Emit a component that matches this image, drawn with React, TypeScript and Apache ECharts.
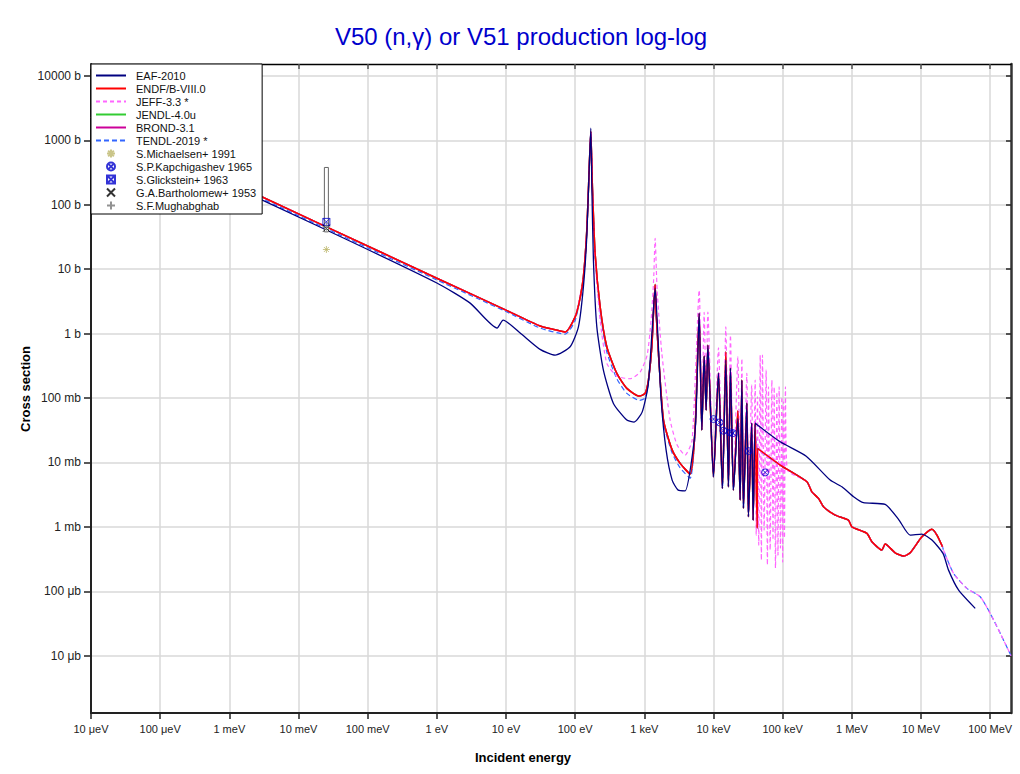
import React, { useEffect, useRef } from "react";
import * as echarts from "echarts";

type Pt = [number, number];

// ---------- axes ----------
const xTickExponents = [-5, -4, -3, -2, -1, 0, 1, 2, 3, 4, 5, 6, 7, 8];
const xTickLabels = ["10 μeV", "100 μeV", "1 meV", "10 meV", "100 meV", "1 eV", "10 eV", "100 eV", "1 keV", "10 keV", "100 keV", "1 MeV", "10 MeV", "100 MeV"];
const yTickExponents = [-5, -4, -3, -2, -1, 0, 1, 2, 3, 4];
const yTickLabels = ["10 μb", "100 μb", "1 mb", "10 mb", "100 mb", "1 b", "10 b", "100 b", "1000 b", "10000 b"];
const energyRange: Pt = [1e-5, 2e8]; // eV
const xsRange: Pt = [1.29e-6, 1.53e4]; // b

// ---------- evaluated data  [energy eV, cross section b] ----------
const eafLow: Pt[] = [
  [1e-5, 2030], [0.0253, 40.5], [1, 6.1], [3.03, 2.97], [7.43, 1.22], [9.08, 1.62], [16.0, 1.02],
  [31.1, 0.568], [51.3, 0.463], [84.5, 0.624], [111.4, 1.27], [131.5, 5.32], [147.2, 31.8],
  [159.2, 344], [168.3, 1540], [174.2, 189], [183.6, 13.8], [205.6, 1.27], [255.9, 0.271],
  [357.3, 0.0824], [558.5, 0.0454], [711.6, 0.0423], [929, 0.0604], [1135, 0.158], [1297, 1.13],
  [1432, 5.07], [1556, 1.13], [1750, 0.0927], [2065, 0.0155], [2523, 5.32e-3], [3083, 3.72e-3],
  [3890, 3.63e-3], [5433, 0.0318],
];
const eafForest: Pt[] = [
  [6209, 2.06], [6776, 0.0318], [7328, 0.447], [7834, 0.0649], [8279, 0.662], [9977, 5.98e-3],
  [11800, 0.243], [13460, 3.95e-3], [15070, 0.387], [16440, 4.19e-3], [17580, 0.291], [19410, 3.72e-3],
  [22490, 0.0482], [24270, 2.61e-3], [25700, 0.19], [27100, 1.94e-3], [30340, 0.0834], [31990, 1.44e-3],
  [35650, 0.0407], [37410, 1.27e-3], [40000, 0.0407],
];
const eafFast: Pt[] = [
  [41400, 0.0394], [92040, 0.0209], [2.19e5, 0.0125], [4.86e5, 5.32e-3], [7.18e5, 4.19e-3],
  [1.06e6, 2.93e-3], [1.47e6, 2.37e-3], [3.03e6, 2.23e-3], [4.73e6, 1.31e-3], [6.98e6, 7.45e-4],
  [1.03e7, 7.73e-4], [1.44e7, 6.24e-4], [2.08e7, 3.87e-4], [2.5e7, 2.13e-4], [3.48e7, 1.05e-4],
  [6.08e7, 5.43e-5],
];

const endfLow: Pt[] = [
  [1e-5, 2290], [0.0253, 45.4], [1, 7.24], [10, 2.31], [31.1, 1.31], [51.3, 1.15], [71.6, 1.06],
  [100, 1.82], [115, 3.16], [131.5, 7.6], [147.2, 40.3], [159.2, 344], [168.3, 1380], [177.5, 189],
  [194.1, 17.7], [229.6, 2.6], [286.4, 0.624], [400, 0.241], [558.5, 0.141], [849, 0.107],
  [1026, 0.118], [1146, 0.19], [1282, 0.622], [1355, 2.06], [1432, 5.79], [1486, 2.0], [1600, 0.492],
  [1892, 0.0454], [2512, 0.0158], [3296, 9.66e-3], [4592, 6.59e-3], [5433, 0.035],
];
const endfForest: Pt[] = [
  [6209, 2.06], [6776, 0.0318], [7328, 0.447], [7834, 0.0649], [8279, 0.662], [9977, 5.98e-3],
  [11800, 0.243], [13460, 3.95e-3], [15070, 0.521], [16440, 4.19e-3], [17580, 0.291], [19410, 3.72e-3],
  [22490, 0.0632], [24270, 2.61e-3], [25700, 0.19], [27100, 1.94e-3], [30340, 0.0834], [31990, 1.44e-3],
  [35650, 0.0407], [37410, 1.27e-3], [40000, 0.0407], [42760, 9.57e-4], [43250, 0.0165],
];
const endfFast: Pt[] = [
  [92040, 9.1e-3], [2.239e5, 5.01e-3], [2.642e5, 3.5e-3], [3.296e5, 2.77e-3], [3.89e5, 2.05e-3],
  [5.741e5, 1.52e-3], [8.93e5, 1.27e-3], [1.002e6, 1.0e-3], [1.652e6, 7.92e-4], [1.95e6, 5.86e-4],
  [2.716e6, 4.36e-4], [3.034e6, 5.41e-4], [4.236e6, 3.96e-4], [5.585e6, 3.52e-4], [6.982e6, 3.96e-4],
  [1.03e7, 7.02e-4], [1.435e7, 9.14e-4], [1.698e7, 7.45e-4], [2.046e7, 4.91e-4],
];

const jeffLow: Pt[] = [
  [1e-5, 2290], [0.0253, 45.4], [1, 7.24], [10, 2.31], [31.1, 1.31], [71.6, 1.06], [100, 1.82],
  [131.5, 7.6], [147.2, 40.3], [159.2, 344], [168.3, 1380], [177.5, 180], [194.1, 15], [229.6, 1.6],
  [287, 0.344], [400, 0.219], [624, 0.199], [869, 0.252], [1097, 0.463], [1253, 1.62], [1362, 6.76],
  [1432, 30.0], [1531, 4.72], [1791, 0.492], [2360, 0.0454], [2979, 0.0186], [3890, 0.013], [4910, 0.0222],
];
const jeffForest: Pt[] = [
  [6209, 4.72], [6776, 0.038], [7328, 2.13], [7834, 0.0927], [8279, 2.15], [9977, 7.6e-3],
  [11800, 0.601], [13460, 5.32e-3], [15070, 1.27], [16440, 5.32e-3], [17580, 0.946], [19410, 4.45e-3],
  [22490, 0.436], [24270, 3.11e-3], [25700, 0.411], [27100, 2.61e-3], [30340, 0.241], [31990, 1.82e-3],
  [35650, 0.158], [37410, 1.52e-3], [40000, 0.19], [41400, 7.45e-4], [43250, 0.1045], [45080, 5.21e-4],
  [47320, 0.463], [49200, 3.05e-4], [51050, 0.463], [53950, 8.91e-4], [57680, 0.271], [60120, 2.55e-4],
  [62370, 0.149], [65920, 4.36e-4], [69820, 0.19], [72440, 6.24e-4], [75340, 0.149], [78700, 2.29e-4],
  [82410, 0.125], [85510, 3.65e-4], [88920, 0.149], [92900, 4.69e-4], [97280, 0.1045], [100000, 2.84e-4],
  [102800, 0.0873], [106200, 6.7e-4], [109700, 0.149], [116100, 7.8e-3],
];
const jeffTail: Pt[] = [
  [2.11e7, 4.36e-4], [2.95e7, 1.9e-4], [4.61e7, 1.11e-4], [7.18e7, 8.22e-5], [1.0e8, 4.54e-5],
  [1.4e8, 2.22e-5], [2.0e8, 1.0e-5],
];

const tendlLow: Pt[] = [
  [1e-5, 2100], [0.0253, 42.5], [1, 6.8], [10, 2.2], [31.1, 1.22], [71.6, 0.98], [100, 1.6],
  [131.5, 7.0], [147.2, 38], [159.2, 330], [168.3, 1300], [177.5, 180], [194.1, 16], [229.6, 2.2],
  [286.4, 0.52], [400, 0.2], [558.5, 0.118], [849, 0.092], [1026, 0.1], [1146, 0.17], [1282, 0.6],
  [1355, 2.0], [1432, 5.2], [1486, 1.9], [1600, 0.45], [1892, 0.042], [2512, 0.0142], [3296, 8.2e-3],
  [4592, 5.7e-3], [5433, 0.03],
];
const tendlJoin: Pt[] = [[43250, 0.0165]];

// ---------- experimental data ----------
const michaelsen1991: Pt[] = [[0.0253, 20.2]];
const kapchigashev1965: Pt[] = [
  [10000, 0.0471], [12200, 0.0418], [13900, 0.031], [17400, 0.0292], [19100, 0.0285], [32000, 0.015], [55800, 0.007],
];
const glickstein1963: Pt[] = [[0.0253, 54.2]];
const glicksteinError: [number, number, number][] = [[0.0253, 37.9, 379]];
const bartholomew1953: Pt[] = [[0.0253, 43]];
const mughabghab: Pt[] = [[0.0253, 45.5]];

// ---------- curves ----------
const eafCurve = [...eafLow, ...eafForest, ...eafFast];
const endfCurve = [...endfLow, ...endfForest, ...endfFast];
const jeffCurve = [...jeffLow, ...jeffForest, ...endfFast.slice(1), ...jeffTail];
const tendlCurve = [...tendlLow, ...eafForest, ...tendlJoin, ...endfFast, ...jeffTail];
const jendlCurve = endfCurve;
const brondCurve = endfCurve;

const lg = (pts: Pt[]) => pts.map(([e, s]) => [Math.log10(e), Math.log10(s)]);

const SYM_STAR = "path://M0,-1L0,1M-1,0L1,0M-0.71,-0.71L0.71,0.71M-0.71,0.71L0.71,-0.71";
const SYM_CIRCX = "path://M1,0A1,1,0,1,1,-1,0A1,1,0,1,1,1,0ZM-0.71,-0.71L0.71,0.71M-0.71,0.71L0.71,-0.71";
const SYM_SQX = "path://M-1,-1L1,-1L1,1L-1,1ZM-1,-1L1,1M-1,1L1,-1";
const SYM_X = "path://M-1,-1L1,1M-1,1L1,-1";
const SYM_PLUS = "path://M0,-1L0,1M-1,0L1,0";

const FONT = "'Liberation Sans', Arial, sans-serif";

function lineSeries(name: string, data: Pt[], color: string, width: number, dash: number[] | null, smooth: number) {
  return {
    name,
    type: "line",
    data: lg(data),
    symbol: "none",
    showSymbol: false,
    silent: true,
    smooth,
    lineStyle: { color, width, type: dash ? dash : "solid" },
    itemStyle: { color },
  };
}

function pointSeries(name: string, data: Pt[], symbol: string, color: string, size: number) {
  return {
    name,
    type: "scatter",
    data: lg(data),
    symbol,
    symbolSize: size,
    silent: true,
    itemStyle: { color: "rgba(255,255,255,0)", borderColor: color, borderWidth: 1 },
    z: 5,
  };
}

export default function App() {
  const ref = useRef<HTMLDivElement>(null);
  useEffect(() => {
    if (!ref.current) return;
    const chart = echarts.init(ref.current, null, { renderer: "svg" });
    const xMin = Math.log10(energyRange[0]);
    const xMax = Math.log10(energyRange[1]);
    const yMin = Math.log10(xsRange[0]);
    const yMax = Math.log10(xsRange[1]);
    const lineNames = ["EAF-2010", "ENDF/B-VIII.0", "JEFF-3.3 *", "JENDL-4.0u", "BROND-3.1", "TENDL-2019 *"];
    const pointNames = ["S.Michaelsen+ 1991", "S.P.Kapchigashev 1965", "S.Glickstein+ 1963", "G.A.Bartholomew+ 1953", "S.F.Mughabghab"];
    const option: any = {
      animation: false,
      backgroundColor: "#fff",
      grid: { left: 91, top: 64, width: 920, height: 649, containLabel: false, outerBoundsMode: "none" },
      graphic: [
        { type: "text", x: 521, y: 36, style: { text: "V50 (n,γ) or V51 production log-log", fill: "#0000cc", font: `24px ${FONT}`, align: "center", verticalAlign: "middle" } },
        { type: "text", x: 523, y: 757, style: { text: "Incident energy", fill: "#000", font: `bold 13px ${FONT}`, align: "center", verticalAlign: "middle" } },
        { type: "text", x: 25, y: 389, rotation: Math.PI / 2, style: { text: "Cross section", fill: "#000", font: `bold 13px ${FONT}`, align: "center", verticalAlign: "middle" } },
      ],
      legend: {
        data: [
          ...lineNames.map((n) => ({ name: n, itemStyle: { opacity: 0 } })),
          ...pointNames.map((n) => ({ name: n })),
        ],
        orient: "vertical",
        left: 91,
        top: 64,
        itemWidth: 30,
        itemHeight: 8,
        itemGap: 2,
        padding: [6, 6, 3, 4],
        backgroundColor: "#fff",
        borderColor: "#000",
        borderWidth: 1,
        selectedMode: false,
        textStyle: { fontSize: 11, color: "#111", fontFamily: FONT, padding: [0, 0, 0, 5] },
        z: 10,
      },
      xAxis: [
        {
          type: "value", min: xMin, max: xMax, position: "bottom",
          axisLine: { show: true, onZero: false, lineStyle: { color: "#222", width: 2 } },
          axisTick: { show: true, customValues: xTickExponents, length: 6, lineStyle: { color: "#222", width: 1.5 } },
          axisLabel: { customValues: xTickExponents, formatter: (v: number) => xTickLabels[Math.round(v) + 5] ?? "", color: "#222", fontSize: 11, fontFamily: FONT, margin: 10 },
          splitLine: { show: true, lineStyle: { color: "#d9d9d9", width: 1.5 } },
        },
        {
          type: "value", min: xMin, max: xMax, position: "top",
          axisLine: { show: true, onZero: false, lineStyle: { color: "#000", width: 1.3 } },
          axisTick: { show: true, inside: true, customValues: xTickExponents, length: 5, lineStyle: { color: "#555", width: 1.5 } },
          axisLabel: { show: false },
          splitLine: { show: false },
        },
      ],
      yAxis: [
        {
          type: "value", min: yMin, max: yMax, position: "left",
          axisLine: { show: true, onZero: false, lineStyle: { color: "#222", width: 2 } },
          axisTick: { show: true, customValues: yTickExponents, length: 7, lineStyle: { color: "#222", width: 1.5 } },
          axisLabel: { customValues: yTickExponents, formatter: (v: number) => yTickLabels[Math.round(v) + 5] ?? "", color: "#222", fontSize: 12, fontFamily: FONT, margin: 10 },
          splitLine: { show: true, lineStyle: { color: "#d9d9d9", width: 1.5 } },
        },
        {
          type: "value", min: yMin, max: yMax, position: "right",
          axisLine: { show: true, onZero: false, lineStyle: { color: "#333", width: 2.5 } },
          axisTick: { show: true, inside: true, customValues: yTickExponents, length: 5, lineStyle: { color: "#222", width: 1.5 } },
          axisLabel: { show: false },
          splitLine: { show: false },
        },
      ],
      series: [
        lineSeries("JENDL-4.0u", jendlCurve, "#33cc33", 1.5, null, 0.2),
        lineSeries("BROND-3.1", brondCurve, "#cc0099", 1.5, null, 0.2),
        lineSeries("TENDL-2019 *", tendlCurve, "#3366ff", 1.2, [5, 3], 0.2),
        lineSeries("JEFF-3.3 *", jeffCurve, "#ff66ff", 1.2, [4, 3], 0.2),
        lineSeries("ENDF/B-VIII.0", endfCurve, "#ff0000", 1.5, null, 0.2),
        lineSeries("EAF-2010", eafCurve, "#000080", 1.3, null, 0.2),
        {
          name: "Glickstein error",
          type: "custom",
          data: glicksteinError.map(([e, lo, hi]) => [Math.log10(e), Math.log10(lo), Math.log10(hi)]),
          encode: { x: 0, y: [1, 2] },
          silent: true,
          z: 4,
          renderItem: (_p: any, api: any) => {
            const x = api.value(0);
            const top = api.coord([x, api.value(2)]);
            const bot = api.coord([x, api.value(1)]);
            return {
              type: "rect",
              shape: { x: top[0] - 2, y: top[1], width: 4, height: bot[1] - top[1] },
              style: { fill: "#fff", stroke: "#666", lineWidth: 1 },
            };
          },
        },
        pointSeries("S.Michaelsen+ 1991", michaelsen1991, SYM_STAR, "#bdb76b", 7),
        pointSeries("S.P.Kapchigashev 1965", kapchigashev1965, SYM_CIRCX, "#0000cc", 7),
        pointSeries("S.Glickstein+ 1963", glickstein1963, SYM_SQX, "#0000cc", 7),
        pointSeries("G.A.Bartholomew+ 1953", bartholomew1953, SYM_X, "#000000", 7),
        pointSeries("S.F.Mughabghab", mughabghab, SYM_PLUS, "#777777", 8),
      ],
    };
    chart.setOption(option);
    return () => chart.dispose();
  }, []);
  return <div ref={ref} style={{ position: "absolute", left: 0, top: 0, width: 1020, height: 774, background: "#fff" }} />;
}
